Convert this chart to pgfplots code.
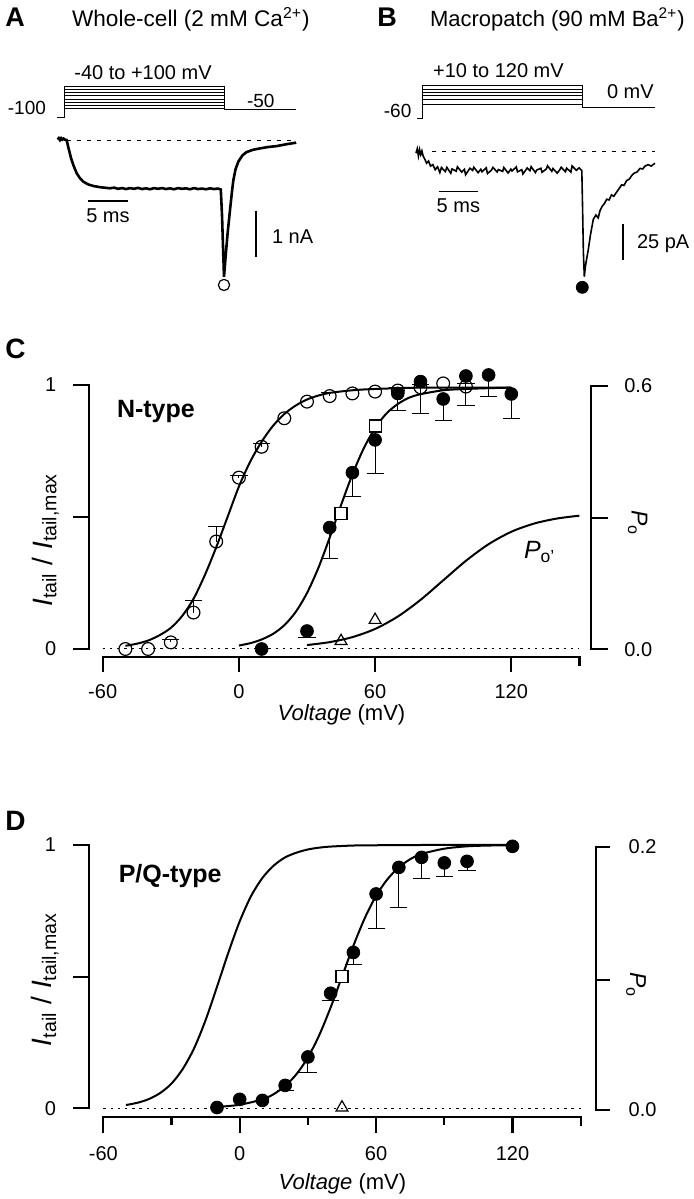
\documentclass[border=0pt]{standalone}
\usepackage{fontspec}
\setmainfont{Liberation Sans}
\usepackage{pgfplots}
\pgfplotsset{compat=1.18}
\newcommand{\fs}[1]{\fontsize{#1}{#1}\selectfont}
\pgfplotsset{
 panel/.style={scale only axis, hide axis, clip=false, anchor=south west},
 curve/.style={black, line width=1pt, mark=none, smooth},
 ebars/.style={draw=none, mark=none, forget plot, error bars/.cd, y explicit, y dir=#1, error bar style={draw=black,line width=0.5pt}, error mark options={draw=black, rotate=90, mark size=4.3pt, line width=0.5pt}},
 filled/.style={black, only marks, mark=*, mark size=3.2pt, mark options={fill=black}},
 opencirc/.style={black, only marks, mark=o, mark size=3.2pt, mark options={line width=0.6pt}},
 opensq/.style={black, only marks, mark=square*, mark size=3pt, mark options={fill=white, line width=0.6pt}},
 opentri/.style={black, only marks, mark=triangle, mark size=3.4pt, mark options={line width=0.6pt}},
 zeroline/.style={black, line width=0.5pt, mark=none, dash pattern=on 1.2pt off 2.4pt},
 baseline/.style={black, line width=0.45pt, mark=none, dash pattern=on 2pt off 3pt},
 step/.style={black, line width=0.5pt, mark=none},
 bar/.style={black, line width=0.7pt, mark=none},
}
\begin{document}
\begin{tikzpicture}
\useasboundingbox (0,0) rectangle (346.5pt,599.5pt);
% ---------- letters and titles
\node[font=\fs{13.5}\bfseries] at (7.5pt,590.75pt) {A};
\node[anchor=base west,font=\fs{11.3}] at (32.5pt,586.15pt) {Whole-cell (2 mM Ca\textsuperscript{2+})};
\node[font=\fs{13.5}\bfseries] at (193.5pt,590.75pt) {B};
\node[anchor=base west,font=\fs{11}] at (211.5pt,586.15pt) {Macropatch (90 mM Ba\textsuperscript{2+})};
\node[font=\fs{14}\bfseries] at (7.7pt,425pt) {C};
\node[font=\fs{14}\bfseries] at (7.7pt,189pt) {D};
% ---------- A texts
\node[anchor=base,font=\fs{10}] at (71.5pt,559.5pt) {-40 to +100 mV};
\node[anchor=base east,font=\fs{9.5}] at (26.5pt,542pt) {-100};
\node[anchor=base west,font=\fs{9.5}] at (120pt,545.85pt) {-50};
\node[anchor=base,font=\fs{10}] at (54pt,488.35pt) {5 ms};
\node[anchor=base west,font=\fs{10}] at (132.5pt,477.85pt) {1 nA};
% ---------- B texts
\node[anchor=base,font=\fs{10}] at (249.2pt,560.85pt) {+10 to 120 mV};
\node[anchor=base west,font=\fs{10}] at (300pt,550pt) {0 mV};
\node[anchor=base east,font=\fs{9.5}] at (209.2pt,540.85pt) {-60};
\node[anchor=base,font=\fs{10}] at (229.2pt,493.35pt) {5 ms};
\node[anchor=base west,font=\fs{10}] at (315pt,475.35pt) {25 pA};

% ---------- A protocol
\begin{axis}[panel, at={(28pt,539.96pt)}, width=124pt, height=16.94pt, xmin=-1, xmax=30, ymin=-110, ymax=110]
\addplot[step] coordinates {(-0.83,-100) (0,-100) (0,100) (20,100) (20,-50) (29,-50)};
\addplot[step] coordinates {(0,-40) (20,-40)};
\addplot[step] coordinates {(0,-20) (20,-20)};
\addplot[step] coordinates {(0,0) (20,0)};
\addplot[step] coordinates {(0,20) (20,20)};
\addplot[step] coordinates {(0,40) (20,40)};
\addplot[step] coordinates {(0,60) (20,60)};
\addplot[step] coordinates {(0,80) (20,80)};
\end{axis}
% ---------- A trace
\begin{axis}[panel, at={(28pt,454.8pt)}, width=124pt, height=79.35pt, xmin=-1, xmax=30, ymin=-3.2, ymax=0.2]
\addplot[baseline] coordinates {(0.33,0) (29,0)};
\addplot[black, line width=1.3pt, mark=none] coordinates {
(-0.8,0.01) (-0.65,0.04) (-0.5,0.0) (-0.35,0.04) (-0.2,0.01) (-0.05,0.03) (0.1,0.01) (0.33,0)
(0.6,-0.2) (0.9,-0.4) (1.2,-0.55) (1.58,-0.71) (2.0,-0.82) (2.4,-0.89) (3.0,-0.95) (3.67,-0.985)
(4.5,-1.01) (5.0,-1.02) (5.75,-1.034) (6.25,-1.02) (6.75,-1.045) (7.25,-1.03) (7.75,-1.05) (8.25,-1.03)
(8.75,-1.045) (9.25,-1.025) (9.75,-1.05) (10.25,-1.035) (10.75,-1.055) (11.25,-1.03) (11.75,-1.045)
(12.25,-1.03) (12.75,-1.05) (13.25,-1.035) (13.75,-1.055) (14.25,-1.03) (14.75,-1.045) (15.25,-1.035)
(15.75,-1.055) (16.25,-1.03) (16.75,-1.05) (17.25,-1.04) (17.75,-1.055) (18.25,-1.035) (18.75,-1.05)
(19.25,-1.04) (19.6,-1.06) (19.75,-1.6) (19.88,-2.3) (20.0,-2.93) (20.2,-2.5) (20.45,-2.0) (20.75,-1.5)
(21.0,-1.1) (21.17,-0.86) (21.45,-0.62) (21.8,-0.46) (22.3,-0.33) (22.8,-0.26) (23.6,-0.21) (24.5,-0.18)
(25.5,-0.15) (26.6,-0.13) (27.8,-0.09) (28.9,-0.06) (29,-0.05)};
\addplot[bar] coordinates {(3,-1.306) (8,-1.306)};
\addplot[bar] coordinates {(24,-1.51) (24,-2.51)};
\addplot[black, only marks, mark=o, mark size=2.8pt, mark options={line width=0.6pt}] coordinates {(20,-3.105)};
\end{axis}

% ---------- B protocol
\begin{axis}[panel, at={(207.45pt,539.445pt)}, width=124.8pt, height=18.3pt, xmin=-1, xmax=31, ymin=-70, ymax=130]
\addplot[step] coordinates {(-0.69,-60) (0,-60) (0,120) (20.46,120) (20.46,0) (29.8,0)};
\addplot[step] coordinates {(0,15) (20.46,15)};
\addplot[step] coordinates {(0,45) (20.46,45)};
\addplot[step] coordinates {(0,62) (20.46,62)};
\addplot[step] coordinates {(0,80) (20.46,80)};
\addplot[step] coordinates {(0,98) (20.46,98)};
\end{axis}
% ---------- B trace
\begin{axis}[panel, at={(207.45pt,451.65pt)}, width=124.8pt, height=79.2pt, xmin=-1, xmax=31, ymin=-100, ymax=10]
\addplot[baseline] coordinates {(1.2,0) (29.8,0)};
\addplot[black, line width=0.8pt, mark=none] coordinates {
(-0.86,-1) (-0.7,2) (-0.55,-3) (-0.4,1.5) (-0.25,-2) (-0.1,0.5) (0.05,-3)
(0.25,-5) (0.5,-8) (0.75,-6.5) (1.0,-10) (1.3,-9) (1.6,-12.5) (1.9,-10.5)
(2.2,-14.5) (2.4,-11) (2.9,-13.8) (3.1,-10.9) (3.6,-15) (3.75,-12) (4.3,-13.5) (4.45,-10.5)
(5.0,-14.2) (5.35,-12.3) (5.5,-16) (6.05,-11.5) (6.4,-13) (6.55,-10.8) (7.1,-14.6) (7.45,-12.2)
(7.6,-13.9) (8.15,-11.2) (8.3,-15.2) (8.85,-12.6) (9.0,-10.9) (9.55,-14.1) (9.7,-12.4) (10.25,-13.7)
(10.4,-11) (10.95,-14.8) (11.3,-12.1) (11.45,-13.4) (12.0,-10.6) (12.15,-14) (12.7,-12.5) (12.85,-15.5)
(13.4,-11.3) (13.75,-13.2) (13.9,-10.4) (14.45,-14.5) (14.6,-12.8) (15.15,-11.5) (15.3,-14.3) (15.85,-12)
(16.0,-9.8) (16.55,-13.6) (16.7,-11.7) (17.25,-14.9) (17.6,-12.3) (17.75,-10.8) (18.3,-13.9) (18.45,-11.4)
(19.0,-14.2) (19.15,-9.9) (19.7,-12.9) (20.05,-11.2) (20.4,-13.1)
(20.5,-40) (20.6,-70) (20.72,-86.8) (20.85,-80) (21.0,-75) (21.23,-68) (21.5,-58) (21.87,-47)
(22.2,-44) (22.5,-46) (22.73,-41) (23.0,-38) (23.3,-36) (23.59,-33) (23.9,-33.5) (24.2,-30)
(24.5,-31) (24.87,-28) (25.2,-25.5) (25.5,-23) (25.8,-23.5) (26.15,-20) (26.5,-19) (26.8,-16.5)
(27.1,-15) (27.5,-14) (27.86,-11.6) (28.2,-12) (28.5,-10) (28.9,-9) (29.3,-10) (29.78,-8)};
\addplot[bar] coordinates {(2.14,-27.8) (7.14,-27.8)};
\addplot[bar] coordinates {(25.7,-50.2) (25.7,-75.2)};
\addplot[black, only marks, mark=*, mark size=3pt] coordinates {(20.46,-94.2)};
\end{axis}

% ---------- C
\begin{axis}[panel, at={(51.35pt,275pt)}, width=238.35pt, height=132pt, xmin=-60, xmax=150, ymin=0, ymax=1]
\draw[line width=1.1pt, line join=miter] (axis cs:-73,1) -- (axis cs:-66,1) -- (axis cs:-66,0) -- (axis cs:-73,0);
\draw[line width=1.1pt] (axis cs:-66,0.5) -- (axis cs:-73,0.5);
\draw[line width=1.1pt, line join=miter] (axis cs:-60,-0.086) -- (axis cs:-60,-0.0314) -- (axis cs:150,-0.0314) -- (axis cs:150,-0.064);
\draw[line width=1.1pt] (axis cs:0,-0.0314) -- (axis cs:0,-0.086);
\draw[line width=1.1pt] (axis cs:60,-0.0314) -- (axis cs:60,-0.086);
\draw[line width=1.1pt] (axis cs:120,-0.0314) -- (axis cs:120,-0.086);
\draw[line width=1.1pt, line join=miter] (axis cs:162.7,0.996) -- (axis cs:155.1,0.996) -- (axis cs:155.1,-0.001) -- (axis cs:162.7,-0.001);
\draw[line width=1.1pt] (axis cs:155.1,0.495) -- (axis cs:162.7,0.495);
\node[anchor=east,font=\fs{10}] at (axis cs:-77.4,1) {1};
\node[anchor=east,font=\fs{10}] at (axis cs:-77.4,0) {0};
\node[anchor=west,font=\fs{10}] at (axis cs:166.7,0.996) {0.6};
\node[anchor=west,font=\fs{10}] at (axis cs:166.7,-0.001) {0.0};
\node[font=\fs{10}] at (axis cs:-60,-0.162) {-60};
\node[font=\fs{10}] at (axis cs:0,-0.162) {0};
\node[font=\fs{10}] at (axis cs:60,-0.162) {60};
\node[font=\fs{10}] at (axis cs:120,-0.162) {120};
\node[font=\fs{11}] at (axis cs:45.2,-0.25) {\textit{Voltage} (mV)};
\node[rotate=90,anchor=base,font=\fs{14}] at (axis cs:-82.3,0.413) {\textit{I}\textsubscript{tail} / \textit{I}\textsubscript{tail,max}};
\node[rotate=-90,anchor=base,font=\fs{11.5}] at (axis cs:173,0.477) {\textit{P}\textsubscript{o}};
\node[anchor=west,font=\fs{12.5}\bfseries] at (axis cs:-56.8,0.899) {N-type};
\node[anchor=west,font=\fs{12.5}] at (axis cs:122.5,0.367) {\textit{P}\textsubscript{o'}};
\addplot[zeroline] coordinates {(-60,0) (150,0)};
% fits
\addplot[curve] coordinates {(-50,0.012) (-45,0.02) (-40,0.032) (-35,0.052) (-30,0.08) (-25,0.125) (-20,0.19) (-15,0.28) (-10,0.385) (-5,0.5) (0,0.615) (5,0.71) (10,0.785) (15,0.845) (20,0.89) (25,0.922) (30,0.945) (35,0.96) (40,0.97) (50,0.98) (60,0.985) (80,0.99) (100,0.99) (120,0.99)};
\addplot[curve] coordinates {(0,0.013) (5,0.022) (10,0.036) (15,0.057) (20,0.09) (25,0.14) (30,0.212) (35,0.307) (40,0.422) (45,0.545) (50,0.661) (55,0.76) (60,0.837) (65,0.892) (70,0.928) (75,0.952) (80,0.965) (90,0.98) (100,0.985) (110,0.988) (120,0.99)};
\addplot[curve] coordinates {(30,0.015) (40,0.026) (50,0.045) (60,0.076) (70,0.123) (80,0.186) (90,0.26) (100,0.334) (110,0.397) (120,0.444) (130,0.475) (140,0.494) (150,0.505)};
% error bars
\addplot[ebars=minus] table[x=V,y=v,y error=e] {
V v e
30 0.068 0.024
40 0.46 0.117
50 0.668 0.091
60 0.792 0.127
70 0.968 0.063
80 1.013 0.12
90 0.947 0.08
100 1.034 0.11
110 1.038 0.08
120 0.966 0.092
};
\addplot[ebars=plus] table[x=V,y=v,y error=e] {
V v e
-30 0.025 0.012
-20 0.138 0.045
-10 0.407 0.056
0 0.649 0.008
10 0.766 0.012
40 0.958 0.015
70 0.979 0.012
80 0.991 0.01
100 0.994 0.012
};
% markers
\addplot[opencirc] coordinates {(-50,0) (-40,0) (-30,0.025) (-20,0.138) (-10,0.407) (0,0.649) (10,0.766) (20,0.874) (30,0.937) (40,0.958) (50,0.968) (60,0.975) (70,0.979) (80,0.991) (90,1.006) (100,0.994)};
\addplot[filled] coordinates {(10,0) (30,0.068) (40,0.46) (50,0.668) (60,0.792) (70,0.968) (80,1.013) (90,0.947) (100,1.034) (110,1.038) (120,0.966)};
\addplot[opensq] coordinates {(45,0.514) (60,0.845)};
\addplot[opentri] coordinates {(45,0.03) (60,0.11)};
\end{axis}

% ---------- D
\begin{axis}[panel, at={(51.65pt,45.35pt)}, width=238.7pt, height=131.65pt, xmin=-60, xmax=150, ymin=0, ymax=1]
\draw[line width=1.1pt, line join=miter] (axis cs:-73.2,1) -- (axis cs:-66.3,1) -- (axis cs:-66.3,0) -- (axis cs:-73.2,0);
\draw[line width=1.1pt] (axis cs:-66.3,0.5) -- (axis cs:-73.2,0.5);
\draw[line width=1.1pt, line join=miter] (axis cs:-60,-0.0927) -- (axis cs:-60,-0.0342) -- (axis cs:150,-0.0342) -- (axis cs:150,-0.067);
\draw[line width=1.1pt] (axis cs:0,-0.0342) -- (axis cs:0,-0.0927);
\draw[line width=1.1pt] (axis cs:60,-0.0342) -- (axis cs:60,-0.0927);
\draw[line width=1.1pt] (axis cs:120,-0.0342) -- (axis cs:120,-0.0927);
\draw[line width=1.1pt] (axis cs:-30,-0.0342) -- (axis cs:-30,-0.063);
\draw[line width=1.1pt] (axis cs:30,-0.0342) -- (axis cs:30,-0.063);
\draw[line width=1.1pt] (axis cs:90,-0.0342) -- (axis cs:90,-0.063);
\draw[line width=1.1pt, line join=miter] (axis cs:162.9,0.992) -- (axis cs:156.7,0.992) -- (axis cs:156.7,-0.0065) -- (axis cs:162.9,-0.0065);
\draw[line width=1.1pt] (axis cs:156.7,0.487) -- (axis cs:162.9,0.487);
\node[anchor=east,font=\fs{10}] at (axis cs:-77.7,1) {1};
\node[anchor=east,font=\fs{10}] at (axis cs:-77.7,0) {0};
\node[anchor=west,font=\fs{10}] at (axis cs:168,0.992) {0.2};
\node[anchor=west,font=\fs{10}] at (axis cs:168,-0.0065) {0.0};
\node[font=\fs{10}] at (axis cs:-60,-0.171) {-60};
\node[font=\fs{10}] at (axis cs:0,-0.171) {0};
\node[font=\fs{10}] at (axis cs:60,-0.171) {60};
\node[font=\fs{10}] at (axis cs:120,-0.171) {120};
\node[font=\fs{11}] at (axis cs:45.2,-0.285) {\textit{Voltage} (mV)};
\node[rotate=90,anchor=base,font=\fs{14}] at (axis cs:-82.6,0.49) {\textit{I}\textsubscript{tail} / \textit{I}\textsubscript{tail,max}};
\node[rotate=-90,anchor=base,font=\fs{11.5}] at (axis cs:171.7,0.468) {\textit{P}\textsubscript{o}};
\node[anchor=west,font=\fs{12.5}\bfseries] at (axis cs:-56.3,0.881) {P/Q-type};
\addplot[zeroline] coordinates {(-60,0) (150,0)};
\addplot[curve] coordinates {(-50,0.0125) (-45,0.021) (-40,0.035) (-35,0.058) (-30,0.094) (-25,0.15) (-20,0.229) (-15,0.335) (-10,0.461) (-5,0.591) (0,0.71) (5,0.806) (10,0.875) (15,0.922) (20,0.953) (25,0.971) (30,0.983) (35,0.99) (40,0.994) (50,0.998) (60,0.999) (80,1.0) (120,1.0)};
\addplot[curve] coordinates {(-10,0.005) (0,0.0135) (10,0.034) (15,0.054) (20,0.085) (25,0.13) (30,0.193) (35,0.278) (40,0.383) (45,0.5) (50,0.617) (55,0.722) (60,0.807) (65,0.87) (70,0.915) (75,0.946) (80,0.966) (90,0.986) (100,0.995) (110,0.998) (120,0.999)};
\addplot[ebars=minus] table[x=V,y=v,y error=e] {
V v e
20 0.087 0.021
30 0.195 0.059
40 0.437 0.026
50 0.592 0.047
60 0.814 0.133
70 0.915 0.152
80 0.953 0.08
90 0.932 0.051
100 0.938 0.036
};
\addplot[filled] coordinates {(-10,0.003) (0,0.034) (10,0.03) (20,0.087) (30,0.195) (40,0.437) (50,0.592) (60,0.814) (70,0.915) (80,0.953) (90,0.932) (100,0.938) (120,0.995)};
\addplot[opensq] coordinates {(45,0.5)};
\addplot[opentri] coordinates {(45,0.003)};
\end{axis}
\end{tikzpicture}
\end{document}
